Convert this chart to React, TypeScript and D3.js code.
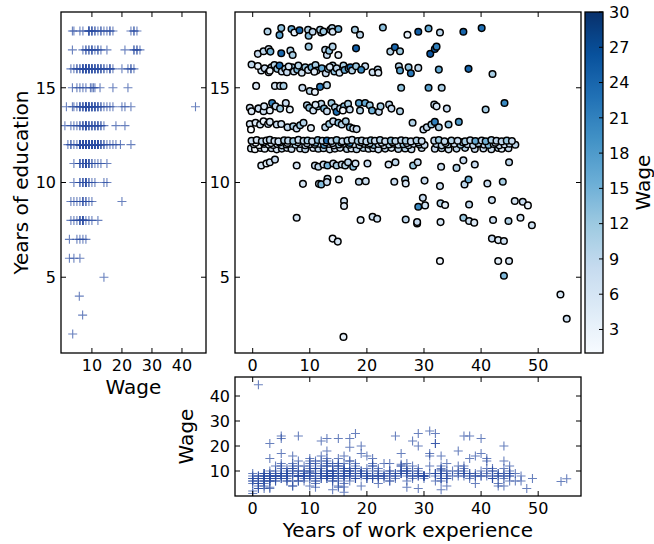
import React from "react";
import * as d3 from "d3";

// Each point: [years of experience (as plotted), education offset (as plotted), wage]
const edu18 = [[2.6,-0.03,10],[5.0,0.15,13],[4.7,-0.22,17],[6.8,0.10,16],[7.3,-0.08,4],[8.2,0.04,24],[9.7,0.06,10],[9.8,-0.25,14],[10.5,-0.04,9],[12.0,-0.08,7],[11.8,0.06,11],[12.4,-0.03,12],[13.6,0.06,9],[13.9,0.15,10],[14.0,-0.04,6],[15.0,0.10,15],[17.9,0.06,11],[18.8,-0.20,9],[22.8,0.18,13],[27.1,-0.20,3.5],[29.0,-0.04,25],[30.8,0.13,16],[32.8,-0.08,9],[36.9,-0.04,24],[40.1,0.15,23]];
const edu17 = [[0.9,-0.21,8],[1.9,-0.07,9],[2.8,0.05,7],[3.1,-0.09,15],[5.0,-0.18,24],[6.6,-0.04,10],[7.0,-0.27,11],[9.8,0.17,12],[12.7,0.01,9],[13.0,-0.27,8],[13.4,-0.04,13],[14.0,0.17,10],[15.0,-0.27,3.5],[18.1,0.08,25],[24.1,-0.09,10],[24.9,0.14,24],[25.8,-0.07,12],[31.1,-0.21,26],[31.9,0.05,25],[32.2,0.17,21]];
const edu16 = [[-0.2,0.23,9],[1.5,-0.09,7],[2.1,0.03,8],[2.8,-0.18,7],[3.3,0.08,8],[3.8,0.20,10],[4.3,0,12],[4.7,0.17,23],[5.1,-0.14,8],[5.7,0,11],[6.0,-0.18,8],[6.9,0.08,13],[7.2,-0.14,9],[7.8,-0.04,14],[8.0,0.17,10],[8.6,-0.21,7],[9.2,0.08,12],[9.7,-0.06,8],[10.3,0.08,15],[11.0,0.20,11],[11.2,-0.09,9],[12.1,0.03,16],[12.8,-0.23,8],[13.2,0,12],[14.0,0.17,10],[14.3,-0.14,13],[14.7,0.03,9],[15.2,-0.21,7],[15.9,0.17,11],[16.1,-0.06,16],[16.8,0.03,14],[17.1,0.08,23],[17.4,-0.09,10],[18.1,0.14,12],[19.7,0.14,8],[21.0,-0.18,7],[21.9,-0.04,9],[22.0,-0.21,5],[25.6,0.14,10],[25.8,-0.09,17],[27.3,0.08,13],[27.7,-0.23,22],[29.0,0.05,9],[32.6,-0.04,16],[37.8,0,24],[42.0,-0.27,11],[0.9,0.15,4],[3.0,-0.1,3],[6.3,0.12,6],[10.8,-0.15,5],[13.5,0.1,6],[19.0,-0.05,20]];
const edu15 = [[0.6,0.10,5],[3.9,0.10,6],[4.8,0.10,7],[5.4,0.10,11],[8.7,0,8],[10.0,-0.17,9.5],[10.9,-0.22,3.5],[11.8,0.05,22],[13.0,0.14,10],[26.0,0,12.7],[30.8,0,17],[33.1,0,10.5]];
const edu14 = [[1.0,-0.10,44.5],[-0.5,-0.06,7],[-0.2,-0.24,5],[1.0,-0.10,8],[1.9,-0.24,7],[2.0,0.02,6],[3.4,0.20,21],[4.0,0.02,9],[4.8,-0.10,12],[5.8,0.20,8],[9.5,0.08,10],[9.9,-0.06,13],[10.6,-0.20,7],[11.4,0.02,11],[12.0,0.15,9],[12.5,-0.10,14],[13.0,-0.24,8],[13.8,0.20,12],[14.4,-0.03,10],[14.7,-0.27,23],[15.3,-0.10,9],[16.0,0.02,13],[16.7,0.15,11],[17.0,-0.15,8],[18.6,0.20,17],[18.8,-0.20,10],[19.7,0.20,16],[20.5,0.08,12],[20.9,-0.20,15],[22.1,-0.27,8],[22.4,0.02,11],[23.9,0.11,9],[24.3,-0.10,8],[25.8,-0.24,10],[31.8,0.11,9],[32.2,0.02,6],[34.0,-0.10,8],[40.8,-0.15,11],[44.1,0.20,20],[6.5,-0.15,4],[11.0,0.10,6],[3.0,-0.20,3.5],[15.8,-0.20,1.5]];
const edu13 = [[-0.5,0.09,6],[-0.3,-0.20,1],[0.5,0.15,5],[1.3,0.06,7],[1.9,0.23,3],[2.7,0.09,8],[3.0,0.20,6],[4.2,0.06,8],[5.0,0.09,7],[6.1,-0.08,9],[7.1,-0.03,11],[7.7,-0.15,8],[8.3,0.02,12],[8.9,0.15,10],[10.2,-0.12,4],[12.7,-0.08,9],[13.4,0.09,12],[14.1,0.23,8],[15.0,0.15,13],[15.6,0.06,10],[16.3,0.23,11],[17.0,-0.08,14],[17.6,-0.15,7],[18.2,-0.18,8],[28.0,0.15,10],[29.9,-0.20,8],[30.5,-0.08,9],[31.3,0.06,12],[31.9,0.20,21],[32.6,-0.08,11],[34.3,0.06,13],[36.1,0.20,18]];
const edu12a = [[-0.2,0.20,8],[0.7,0.24,6],[1.6,0.18,9],[2.4,0.22,7],[3.0,0.25,9],[3.8,0.19,8],[4.5,0.17,8],[5.5,0.23,10],[6.2,0.21,9],[7.1,0.19,12],[8.0,0.25,8],[8.9,0.20,9],[9.6,0.22,11],[10.4,0.18,8],[11.4,0.24,13],[12.2,0.20,9],[13.0,0.22,23],[13.8,0.19,9],[14.7,0.24,12],[15.7,0.18,8],[16.6,0.21,10],[17.4,0.25,8],[18.4,0.19,11],[19.1,0.22,9],[19.9,0.17,9],[20.7,0.23,12],[21.4,0.20,8],[22.3,0.24,10],[23.2,0.18,8],[24.2,0.21,13],[25.0,0.19,9],[26.0,0.23,9],[26.8,0.20,11],[27.7,0.17,8],[28.7,0.22,10],[29.6,0.19,8],[31.8,0.21,9],[32.6,0.24,12],[33.6,0.18,9],[34.8,0.22,10],[35.9,0.20,8],[37.2,0.17,11],[38.1,0.23,9],[39.0,0.19,16],[40.1,0.22,8],[40.8,0.18,15],[41.8,0.24,10],[42.7,0.20,9],[43.6,0.17,9],[44.5,0.21,12],[45.4,0.19,8]];
const edu12b = [[0.2,0.02,7],[1.1,-0.03,3],[2.0,0.04,8],[2.8,0.00,6],[3.6,-0.02,8],[4.3,0.03,7],[5.1,-0.04,9],[5.9,0.01,9],[6.7,0.05,6],[7.5,-0.01,10],[8.4,0.03,8],[9.2,-0.03,8],[10.0,0.02,7],[10.9,0.00,11],[11.7,0.04,9],[12.5,-0.02,18],[13.4,0.03,9],[14.2,-0.04,8],[15.1,0.01,12],[15.9,0.05,8],[16.9,-0.01,10],[17.8,0.02,7],[18.7,-0.03,9],[19.5,0.04,11],[20.3,0.00,9],[21.2,-0.02,13],[22.0,0.03,8],[23.0,-0.04,8],[23.9,0.01,10],[24.7,0.05,7],[25.5,-0.01,9],[26.4,0.02,12],[27.3,-0.03,9],[28.2,0.04,8],[29.2,0.00,11],[30.1,-0.02,8],[32.2,0.03,9],[33.1,-0.04,9],[34.2,0.01,10],[35.3,0.05,8],[36.4,-0.01,12],[37.6,0.02,8],[38.6,-0.03,9],[39.6,0.04,17],[40.5,0.00,9],[41.3,-0.02,14],[42.2,0.03,10],[43.2,-0.04,8],[44.1,0.01,8],[45.0,0.05,9],[46.0,-0.01,9]];
const edu12c = [[-0.3,-0.20,6],[0.4,-0.24,2],[1.4,-0.18,7],[2.1,-0.22,5],[3.3,-0.19,8],[4.2,-0.25,6],[5.1,-0.21,9],[6.0,-0.17,7],[6.8,-0.23,8],[8.3,-0.20,8],[9.2,-0.24,9],[10.6,-0.18,6],[11.5,-0.22,9],[12.4,-0.19,10],[13.5,-0.25,7],[14.4,-0.21,8],[15.3,-0.17,8],[16.5,-0.23,9],[17.3,-0.20,6],[18.2,-0.24,9],[19.4,-0.18,10],[20.3,-0.22,7],[21.1,-0.19,8],[22.0,-0.25,8],[23.2,-0.21,9],[24.3,-0.17,6],[25.5,-0.23,9],[26.7,-0.20,10],[27.8,-0.24,7],[29.6,-0.18,8],[31.9,-0.22,8],[33.1,-0.19,9],[34.3,-0.25,7],[35.7,-0.21,9],[37.2,-0.17,10],[38.9,-0.23,8],[40.4,-0.20,8],[41.8,-0.24,7],[43.0,-0.18,9],[43.6,-0.22,4],[44.8,-0.19,8]];
const edu12d = [[0.5,0.10,3],[1.9,0.12,9],[3.2,0.08,7],[4.7,0.11,9],[6.1,0.09,6],[7.9,0.13,8],[9.5,0.07,8],[11.0,0.10,14],[12.8,0.12,7],[14.0,0.08,9],[15.5,0.11,9],[17.0,0.09,19.5],[18.9,0.13,8],[20.5,0.07,10],[22.6,0.10,7],[24.5,0.12,8],[27.0,0.08,8],[29.0,0.11,9],[33.8,0.09,7],[36.8,0.13,9],[39.5,0.07,10],[42.5,0.10,8]];
const edu11 = [[1.5,-0.10,6],[2.4,0,4],[3.0,0.07,7],[3.9,0.21,8],[7.7,-0.10,6],[10.9,-0.10,8],[11.5,-0.17,9],[12.4,-0.05,7],[13.1,-0.10,15],[14.1,0,8],[14.7,-0.10,11],[15.6,-0.05,8],[16.2,-0.10,10],[16.7,0.07,9],[17.6,-0.17,13],[18.0,0,7],[20.1,0,8],[23.8,-0.05,6],[25.0,0.07,9],[28.1,-0.10,12],[28.9,0.07,8],[33.0,-0.17,7],[35.7,-0.23,10],[36.9,0.17,8],[38.9,-0.05,8],[44.9,0.07,9]];
const edu10 = [[8.8,-0.07,6],[11.6,-0.07,8],[12.0,-0.10,14],[13.1,0.19,7],[13.0,0.02,8],[15.1,0.16,4],[18.6,0.04,9],[19.8,0.07,7],[24.8,0.04,8],[26.7,0.16,10],[26.8,-0.05,6],[30.1,0.10,8],[32.8,-0.19,7],[37.1,-0.10,9],[37.8,0.16,15],[41.1,-0.05,8],[43.8,0.04,11]];
const edu9 = [[16.0,0.02,7],[16.0,-0.24,5],[29.0,-0.28,20],[29.8,0.19,8],[30.2,-0.21,7],[32.9,-0.10,10],[33.7,-0.19,4],[37.9,-0.16,9],[41.9,0.07,7],[45.9,0.02,6],[47.3,-0.02,8],[48.2,-0.21,3]];
const edu8 = [[7.7,0.14,6],[18.9,0.02,4],[21.0,0.19,7],[21.8,0.09,7],[26.8,0.05,9],[28.8,-0.16,3],[28.8,-0.09,8],[32.9,-0.09,6],[36.9,0.14,12],[37.9,-0.03,7],[38.8,-0.12,5],[42.1,0.02,7],[44.8,-0.03,10],[46.9,0.14,6],[48.9,-0.26,7]];
const edu7 = [[14.0,0.04,2.5],[14.9,-0.12,6],[41.9,0.04,8],[43.0,-0.04,5],[44.0,-0.09,7]];
const edu6 = [[32.8,-0.14,2.5],[43.0,-0.14,4],[44.9,-0.14,6]];
const edu5 = [[44.0,0.08,14]];
const edu4 = [[53.9,0.09,5.8]];
const edu3 = [[55.0,-0.19,6.9]];
const edu2 = [[15.9,-0.15,3.6]];

const groups: [number, number[][]][] = [
  [12, edu12c], [12, edu12b], [12, edu12d], [12, edu12a],
  [14, edu14], [13, edu13], [16, edu16], [15, edu15], [17, edu17], [18, edu18],
  [11, edu11], [10, edu10], [9, edu9], [8, edu8], [7, edu7], [6, edu6],
  [5, edu5], [4, edu4], [3, edu3], [2, edu2],
];

const eduTicks = [5, 10, 15];
const expTicks = [0, 10, 20, 30, 40, 50];
const wageTicksLeft = [10, 20, 30, 40];
const wageTicksBottom = [10, 20, 30, 40];
const cbarTicks = [3, 6, 9, 12, 15, 18, 21, 24, 27, 30];
// matplotlib "Blues" control colours
const bluesColors = ["#f7fbff", "#deebf7", "#c6dbef", "#9ecae1", "#6baed6", "#4292c6", "#2171b5", "#08519c", "#08306b"];

type Pt = { edu: number; exp: number; dy: number; wage: number };
const points: Pt[] = [];
groups.forEach(([edu, arr]) => arr.forEach(([exp, dy, wage]) => points.push({ edu, exp, dy, wage })));

const FONT = "DejaVu Sans, Verdana, sans-serif";
const TICK = 5;
const FS = 16;

const main = { x0: 235, x1: 581, y0: 12, y1: 353 };
const left = { x0: 61, x1: 206, y0: 12, y1: 353 };
const bot = { x0: 235, x1: 581, y0: 377, y1: 496 };
const cb = { x0: 585, x1: 603, y0: 12, y1: 353 };

const xExp = d3.scaleLinear().domain([-3.1, 57.5]).range([main.x0, main.x1]);
const yEdu = d3.scaleLinear().domain([1, 19]).range([main.y1, main.y0]);
const xWage = d3.scaleLinear().domain([-0.3, 48]).range([left.x0, left.x1]);
const yWage = d3.scaleLinear().domain([0, 47.6]).range([bot.y1, bot.y0]);
const yCb = d3.scaleLinear().domain([1, 30]).range([cb.y1, cb.y0]);
const blues = d3
  .scaleLinear<string>()
  .domain(d3.range(bluesColors.length).map((i) => i / (bluesColors.length - 1)))
  .range(bluesColors)
  .interpolate(d3.interpolateRgb)
  .clamp(true);
const norm = d3.scaleLinear().domain([1, 30]).clamp(true);
const color = (w: number) => blues(norm(w));

const PLUS = "#2a4ba2";

function Axes({ box, xs, ys, xt, yt, xLab = true, yLab = true }: any) {
  return (
    <g>
      {xt.map((t: number) => (
        <g key={"x" + t}>
          <line x1={xs(t)} x2={xs(t)} y1={box.y1} y2={box.y1 - TICK} stroke="#000" />
          <line x1={xs(t)} x2={xs(t)} y1={box.y0} y2={box.y0 + TICK} stroke="#000" />
          {xLab && (
            <text x={xs(t)} y={box.y1 + 18} textAnchor="middle" fontSize={FS} fontFamily={FONT}>{t}</text>
          )}
        </g>
      ))}
      {yt.map((t: number) => (
        <g key={"y" + t}>
          <line x1={box.x0} x2={box.x0 + TICK} y1={ys(t)} y2={ys(t)} stroke="#000" />
          <line x1={box.x1} x2={box.x1 - TICK} y1={ys(t)} y2={ys(t)} stroke="#000" />
          {yLab && (
            <text x={box.x0 - 5} y={ys(t) + 5.8} textAnchor="end" fontSize={FS} fontFamily={FONT}>{t}</text>
          )}
        </g>
      ))}
      <rect x={box.x0} y={box.y0} width={box.x1 - box.x0} height={box.y1 - box.y0} fill="none" stroke="#000" strokeWidth={1.3} />
    </g>
  );
}

function Plus({ x, y }: { x: number; y: number }) {
  const s = 4.5;
  return <path d={`M${x - s},${y}H${x + s}M${x},${y - s}V${y + s}`} stroke={PLUS} strokeWidth={1.1} strokeOpacity={0.7} fill="none" />;
}

export default function App() {
  const stops = d3.range(0, 1.0001, 0.0625);
  return (
    <svg width={654} height={544} style={{ position: "fixed", left: 0, top: 0, background: "#fff" }}>
      <rect x={0} y={0} width={654} height={544} fill="#fff" />
      <defs>
        <linearGradient id="cbg" x1="0" y1="1" x2="0" y2="0">
          {stops.map((s) => (
            <stop key={s} offset={s} stopColor={blues(s)} />
          ))}
        </linearGradient>
        <clipPath id="clipMain"><rect x={main.x0} y={main.y0} width={main.x1 - main.x0} height={main.y1 - main.y0} /></clipPath>
        <clipPath id="clipLeft"><rect x={left.x0} y={left.y0} width={left.x1 - left.x0} height={left.y1 - left.y0} /></clipPath>
        <clipPath id="clipBot"><rect x={bot.x0} y={bot.y0} width={bot.x1 - bot.x0} height={bot.y1 - bot.y0} /></clipPath>
      </defs>

      {/* main scatter */}
      <g clipPath="url(#clipMain)">
        {points.map((p, i) => (
          <circle key={i} cx={xExp(p.exp)} cy={yEdu(p.edu + p.dy)} r={3.3} fill={color(p.wage)} stroke="#000" strokeWidth={1.5} />
        ))}
      </g>
      <Axes box={main} xs={xExp} ys={yEdu} xt={expTicks} yt={eduTicks} />

      {/* left marginal: wage vs education */}
      <g clipPath="url(#clipLeft)">
        {points.map((p, i) => (
          <Plus key={i} x={xWage(p.wage)} y={yEdu(p.edu)} />
        ))}
      </g>
      <Axes box={left} xs={xWage} ys={yEdu} xt={wageTicksLeft} yt={eduTicks} />
      <text x={(left.x0 + left.x1) / 2} y={394} textAnchor="middle" fontSize={20} fontFamily={FONT}>Wage</text>
      <text transform={`translate(28,${(left.y0 + left.y1) / 2}) rotate(-90)`} textAnchor="middle" fontSize={20} fontFamily={FONT}>Years of education</text>

      {/* bottom marginal: experience vs wage */}
      <g clipPath="url(#clipBot)">
        {points.map((p, i) => (
          <Plus key={i} x={xExp(Math.max(0, Math.round(p.exp)))} y={yWage(p.wage)} />
        ))}
      </g>
      <Axes box={bot} xs={xExp} ys={yWage} xt={expTicks} yt={wageTicksBottom} />
      <text x={(bot.x0 + bot.x1) / 2} y={537} textAnchor="middle" fontSize={20} fontFamily={FONT}>Years of work experience</text>
      <text transform={`translate(193,${(bot.y0 + bot.y1) / 2}) rotate(-90)`} textAnchor="middle" fontSize={20} fontFamily={FONT}>Wage</text>

      {/* colorbar */}
      <rect x={cb.x0} y={cb.y0} width={cb.x1 - cb.x0} height={cb.y1 - cb.y0} fill="url(#cbg)" />
      {cbarTicks.map((t) => (
        <g key={t}>
          <line x1={cb.x1} x2={cb.x1 - 4} y1={yCb(t)} y2={yCb(t)} stroke="#000" />
          <text x={609} y={yCb(t) + 5.8} fontSize={FS} fontFamily={FONT}>{t}</text>
        </g>
      ))}
      <rect x={cb.x0} y={cb.y0} width={cb.x1 - cb.x0} height={cb.y1 - cb.y0} fill="none" stroke="#000" strokeWidth={1.3} />
      <text transform={`translate(650,${(cb.y0 + cb.y1) / 2}) rotate(-90)`} textAnchor="middle" fontSize={20} fontFamily={FONT}>Wage</text>
    </svg>
  );
}
